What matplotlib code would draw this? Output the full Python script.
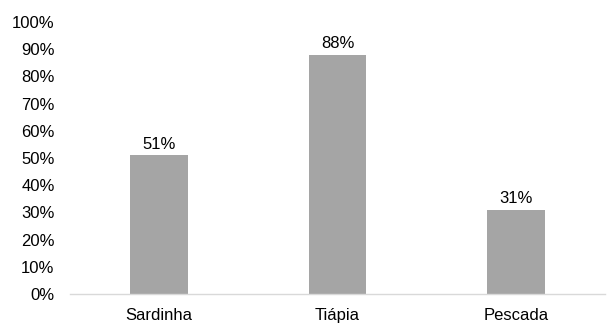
import numpy as np
import matplotlib.pyplot as plt

plt.rcParams['font.family'] = ['Liberation Sans', 'DejaVu Sans']

categorias = ['Sardinha', 'Tiápia', 'Pescada']
valores = [51, 88, 31]
yticks = list(range(0, 101, 10))

fig = plt.figure(figsize=(6.07, 3.24), dpi=100)
ax = fig.add_axes([0.115, 0.0926, 0.882, 0.8395])

x = np.arange(len(categorias))
bars = ax.bar(x, valores, width=0.32, color='#a5a5a5', zorder=2)
for xi, v in zip(x, valores):
    ax.text(xi, v + 1.2, f'{v}%', ha='center', va='bottom', fontsize=12, color='#000000')

ax.set_xlim(-0.5, len(categorias) - 0.5)
ax.set_ylim(0, 100)
ax.set_yticks(yticks)
ax.set_yticklabels([f'{t}%' for t in yticks], fontsize=12)
ax.set_xticks(x)
ax.set_xticklabels(categorias, fontsize=12)
ax.tick_params(axis='x', length=0, pad=10)
ax.tick_params(axis='y', length=0, pad=11)

for s in ['top', 'right', 'left']:
    ax.spines[s].set_visible(False)
ax.spines['bottom'].set_color('#d9d9d9')
ax.spines['bottom'].set_linewidth(1.0)

fig.savefig('out.png', dpi=100)
